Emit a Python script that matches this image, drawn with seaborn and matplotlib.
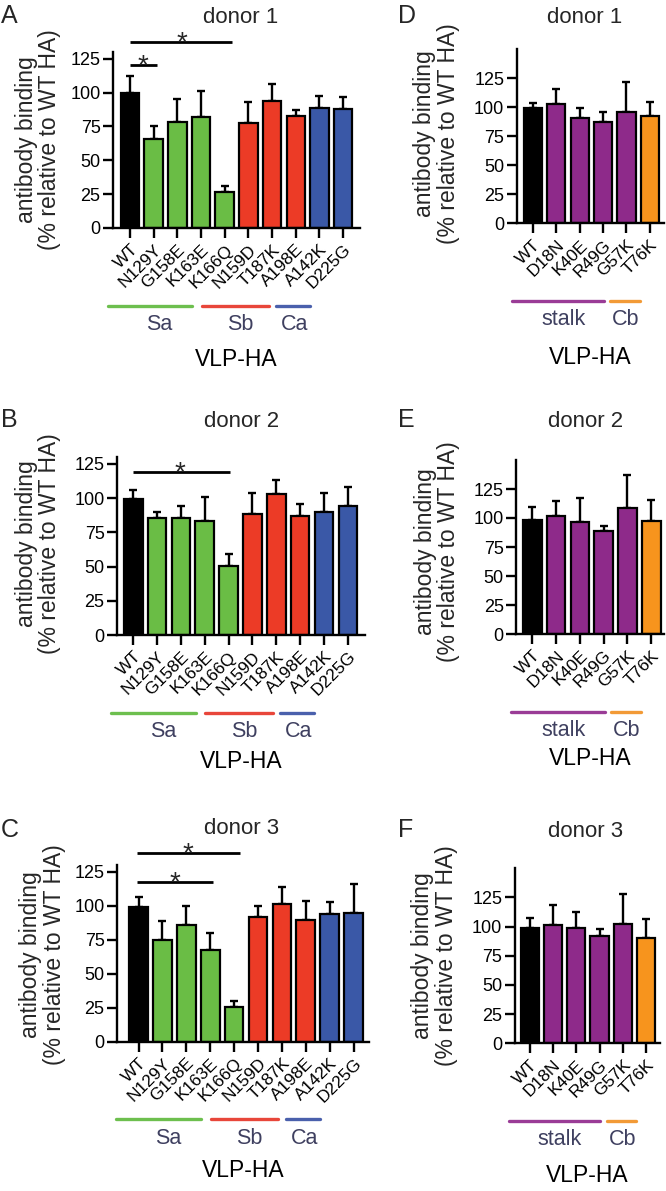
import numpy as np
import pandas as pd
import seaborn as sns
import matplotlib
matplotlib.use("Agg")
import matplotlib.pyplot as plt
from matplotlib import transforms

# ---------------- data ----------------
head_labels = ["WT", "N129Y", "G158E", "K163E", "K166Q", "N159D", "T187K", "A198E", "A142K", "D225G"]
head_sites = ["WT", "Sa", "Sa", "Sa", "Sa", "Sb", "Sb", "Sb", "Ca", "Ca"]
stalk_labels = ["WT", "D18N", "K40E", "R49G", "G57K", "T76K"]
stalk_sites = ["WT", "stalk", "stalk", "stalk", "stalk", "Cb"]

donor1_head = [99.4, 65.5, 78.2, 82.2, 26.6, 77.3, 93.8, 82.7, 88.6, 87.7]
donor1_head_sd = [12.8, 9.8, 17.3, 19.2, 4.4, 15.7, 12.2, 4.2, 8.8, 9.3]
donor2_head = [99.2, 85.3, 85.3, 83.6, 50.7, 88.2, 103.0, 87.2, 89.7, 94.3]
donor2_head_sd = [6.8, 4.4, 9.0, 17.4, 8.3, 15.6, 10.5, 8.6, 13.9, 14.1]
donor3_head = [99.3, 74.5, 85.8, 67.4, 25.7, 91.4, 101.5, 89.5, 93.6, 94.9]
donor3_head_sd = [7.3, 14.2, 14.0, 12.7, 4.4, 8.6, 12.5, 13.9, 9.4, 20.8]

donor1_stalk = [99.0, 102.6, 91.0, 87.0, 96.0, 92.7]
donor1_stalk_sd = [4.4, 13.4, 8.6, 9.0, 26.0, 12.1]
donor2_stalk = [98.6, 101.4, 96.3, 88.5, 108.6, 97.1]
donor2_stalk_sd = [10.9, 13.0, 20.9, 4.9, 28.4, 18.4]
donor3_stalk = [99.0, 101.0, 98.7, 91.9, 101.9, 89.9]
donor3_stalk_sd = [8.6, 17.4, 13.5, 6.0, 25.7, 16.3]

y_ticks = [0, 25, 50, 75, 100, 125]

site_colors = {"WT": "#000000", "Sa": "#6abd45", "Sb": "#ec3b26", "Ca": "#3a58a7",
               "stalk": "#8e2a8a", "Cb": "#f7941d"}
line_colors = {"Sa": "#6dbf4e", "Sb": "#e8463a", "Ca": "#4a60ac",
               "stalk": "#9a3c96", "Cb": "#f29a36"}
label_color = "#3f4060"

# significance brackets (x0, x1, y, star x)
sig_A = [(0, 1.13, 120.5, 0.55), (0, 4.3, 137.5, 2.18)]
sig_B = [(-0.03, 4.05, 119.4, 1.96)]
sig_C = [(-0.06, 3.1, 117.2, 1.52), (-0.06, 4.24, 138.5, 2.08)]

# group underline extents (data x) and label x
head_groups = [("Sa", -0.95, 2.62, 1.25), ("Sb", 3.02, 5.85, 4.65), ("Ca", 6.16, 7.6, 6.95)]
stalk_groups = [("stalk", -0.9, 3.04, 1.3), ("Cb", 3.3, 4.58, 3.98)]

W, H = 666, 1191
DPI = 100

sns.set_theme(style="ticks")
plt.rcParams["font.family"] = ["Liberation Sans", "DejaVu Sans"]

fig = plt.figure(figsize=(W / DPI, H / DPI), dpi=DPI)
fig.patch.set_facecolor("white")

panels = [
    dict(letter="A", title="donor 1", labels=head_labels, sites=head_sites, vals=donor1_head, sd=donor1_head_sd,
         left=113, bottom=228, xlim=(-0.72, 9.72), ylim=(0, 130), upx=23.67, ypx=1.354,
         sig=sig_A, groups=head_groups, lett=(1, 23), tit=(241, 22.7), ylab=(38.5, 140), vlp=138),
    dict(letter="B", title="donor 2", labels=head_labels, sites=head_sites, vals=donor2_head, sd=donor2_head_sd,
         left=117, bottom=635, xlim=(-0.68, 9.7), ylim=(0, 130), upx=23.85, ypx=1.368,
         sig=sig_B, groups=head_groups, lett=(1, 427), tit=(241.7, 426.7), ylab=(38.5, 544), vlp=133),
    dict(letter="C", title="donor 3", labels=head_labels, sites=head_sites, vals=donor3_head, sd=donor3_head_sd,
         left=117, bottom=1041.7, xlim=(-0.9, 9.63), ylim=(0, 130), upx=23.9, ypx=1.36,
         sig=sig_C, groups=head_groups, lett=(1, 837), tit=(241.7, 834), ylab=(42.5, 955), vlp=135.6),
    dict(letter="D", title="donor 1", labels=stalk_labels, sites=stalk_sites, vals=donor1_stalk, sd=donor1_stalk_sd,
         left=516.7, bottom=223.3, xlim=(-0.69, 5.6), ylim=(0, 150), upx=23.4, ypx=1.16,
         sig=[], groups=stalk_groups, lett=(398, 23), tit=(585, 22.7), ylab=(436.5, 134), vlp=140.7),
    dict(letter="E", title="donor 2", labels=stalk_labels, sites=stalk_sites, vals=donor2_stalk, sd=donor2_stalk_sd,
         left=516.3, bottom=634, xlim=(-0.67, 5.55), ylim=(0, 150), upx=23.8, ypx=1.16,
         sig=[], groups=stalk_groups, lett=(398, 427), tit=(586, 426.7), ylab=(437, 552), vlp=131),
    dict(letter="F", title="donor 3", labels=stalk_labels, sites=stalk_sites, vals=donor3_stalk, sd=donor3_stalk_sd,
         left=514.7, bottom=1043.3, xlim=(-0.64, 5.6), ylim=(0, 150), upx=23.3, ypx=1.168,
         sig=[], groups=stalk_groups, lett=(398, 837), tit=(586, 837.3), ylab=(434.5, 956), vlp=138.4),
]

LW = 1.7

for p in panels:
    w_px = (p["xlim"][1] - p["xlim"][0]) * p["upx"]
    h_px = (p["ylim"][1] - p["ylim"][0]) * p["ypx"]
    ax = fig.add_axes([p["left"] / W, 1 - p["bottom"] / H, w_px / W, h_px / H])
    df = pd.DataFrame({"mut": p["labels"], "val": p["vals"], "site": p["sites"]})
    pal = [site_colors[s] for s in p["sites"]]
    sns.barplot(data=df, x="mut", y="val", hue="mut", palette=pal, legend=False,
                order=p["labels"], hue_order=p["labels"], errorbar=None, saturation=1,
                width=0.78, edgecolor="black", linewidth=1.6, ax=ax, zorder=2)
    n = len(p["labels"])
    ax.errorbar(np.arange(n), p["vals"], yerr=[np.zeros(n), p["sd"]], fmt="none",
                ecolor="black", elinewidth=LW, capsize=3.2, capthick=LW, zorder=1)
    ax.set_xlim(*p["xlim"])
    ax.set_ylim(*p["ylim"])
    ax.set_yticks(y_ticks)
    ax.set_yticklabels([str(t) for t in y_ticks], fontsize=13)
    ax.set_xticks(np.arange(n))
    ax.set_xticklabels(p["labels"], fontsize=12.5, rotation=45, ha="right", va="top",
                       rotation_mode="anchor")
    ax.set_xlabel("")
    ax.set_ylabel("")
    for s in ["top", "right"]:
        ax.spines[s].set_visible(False)
    for s in ["left", "bottom"]:
        ax.spines[s].set_linewidth(LW)
        ax.spines[s].set_color("black")
    ax.tick_params(axis="both", length=7, width=LW, color="black", labelcolor="black")
    ax.tick_params(axis="y", pad=2)
    ax.tick_params(axis="x", pad=3)
    ax.set_facecolor("white")

    # significance
    for x0, x1, yv, xs in p["sig"]:
        ax.plot([x0, x1], [yv, yv], color="black", lw=2.0, clip_on=False, solid_capstyle="butt")
        ax.annotate("*", xy=(xs, yv), xytext=(0, -6), textcoords="offset points",
                    ha="center", va="baseline", fontsize=20, annotation_clip=False)

    # group lines and labels below axis
    base = transforms.blended_transform_factory(ax.transData, ax.transAxes)
    tr_line = base + transforms.ScaledTranslation(0, -77.5 / DPI, fig.dpi_scale_trans)
    for name, x0, x1, xl in p["groups"]:
        ax.plot([x0, x1], [0, 0], transform=tr_line, color=line_colors[name], lw=2.4,
                clip_on=False, solid_capstyle="round")
        ax.annotate(name, xy=(xl, 0), xycoords=("data", "axes fraction"),
                    xytext=(0, -102 * 72 / DPI), textcoords="offset points",
                    ha="center", va="baseline", fontsize=15.5, color=label_color,
                    annotation_clip=False)
    ax.annotate("VLP-HA", xy=(0.5, 0), xycoords="axes fraction",
                xytext=(0, -p["vlp"] * 72 / DPI), textcoords="offset points",
                ha="center", va="baseline", fontsize=16.5, color="black", annotation_clip=False)

    # texts in figure pixel coords
    fig.text(p["lett"][0] / W, 1 - p["lett"][1] / H, p["letter"], fontsize=18,
             ha="left", va="baseline")
    fig.text(p["tit"][0] / W, 1 - p["tit"][1] / H, p["title"], fontsize=16,
             ha="center", va="baseline")
    fig.text(p["ylab"][0] / W, 1 - p["ylab"][1] / H,
             "antibody binding\n(% relative to WT HA)", fontsize=16.5, rotation=90,
             ha="center", va="center", multialignment="center", linespacing=1.0)

fig.savefig("out.png", dpi=DPI, facecolor="white")
